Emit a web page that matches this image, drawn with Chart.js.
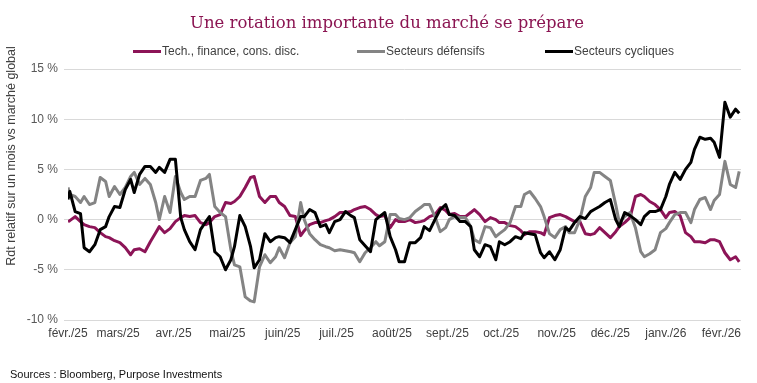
<!DOCTYPE html>
<html><head><meta charset="utf-8">
<script src="https://cdn.jsdelivr.net/npm/chart.js@4.4.1/dist/chart.umd.min.js"></script>
<style>html,body{margin:0;padding:0;background:#fff;}</style>
</head><body>
<canvas id="c" width="757" height="383"></canvas>
<script>
// Day offsets from 1 Feb 2025
const jours = [0,1,4,7,9,12,15,18,21,23,26,29,32,35,37,40,43,46,49,51,54,57,
60,63,65,68,71,74,77,79,82,85,88,91,93,96,99,102,104,107,110,113,116,118,121,
124,127,130,132,135,138,141,144,146,149,152,155,158,160,163,166,169,172,174,177,180,183,185,
188,191,194,197,199,202,205,208,211,213,216,219,222,225,227,230,233,236,239,241,244,247,250,
253,255,258,261,264,266,269,272,275,278,280,283,286,289,292,294,297,300,303,306,308,311,314,
317,320,322,325,328,331,334,336,339,342,345,348,350,353,356,359,361,364,367,370,373,375];

const moisDebut = [0,28,59,89,120,150,181,212,242,273,303,334,365];
const moisLabels = ['févr./25','mars/25','avr./25','mai/25','juin/25','juil./25','août/25','sept./25','oct./25','nov./25','déc./25','janv./26','févr./26'];
const yTicks = [-10,-5,0,5,10,15];

const tech = [-0.2,
-0.1,0.3,-0.2,-0.5,-0.7,-0.8,-1.3,-1.7,-1.8,-2.1,-2.3,-2.8,-3.5,-3.0,-2.9,-3.2,-2.2,-1.3,-0.7,-1.3,-0.9,
-0.2,0.2,0.4,0.3,0.4,-0.3,-0.5,-0.3,0.3,0.5,1.7,1.6,1.8,2.3,3.2,4.2,4.3,2.3,1.7,2.3,2.3,1.7,1.3,
0.4,0.3,-1.6,-1.1,-0.5,-0.3,-0.3,-0.1,0.0,0.3,0.7,0.7,0.8,1.0,1.2,1.3,1.0,0.5,0.3,0.4,-0.8,0.0,-0.2,
-0.2,0.0,-0.3,-0.2,-0.1,0.3,0.5,1.2,0.9,0.5,0.6,0.3,0.3,0.7,1.0,0.5,-0.2,0.2,0.0,-0.3,-0.3,-0.6,-0.7,
-1.1,-1.5,-1.2,-1.2,-1.3,-1.5,0.2,0.4,0.5,0.3,0.1,-0.2,-0.2,-1.4,-1.5,-1.4,-0.8,-1.3,-1.8,-1.2,-0.7,-0.3,0.2,
2.3,2.5,2.3,1.8,1.5,1.0,0.2,0.7,0.8,0.4,-1.3,-1.7,-2.2,-2.2,-2.3,-2.0,-2.0,-2.2,-3.3,-4.0,-3.7,-4.2];

const defensifs = [3.2,
2.5,2.3,1.7,2.3,1.5,1.7,4.2,3.8,2.3,3.3,2.5,3.2,4.3,4.7,3.5,4.1,3.5,1.7,0.0,2.3,0.7,
4.3,2.7,2.0,2.3,2.3,3.9,4.1,4.5,1.3,0.7,0.3,-3.0,-4.5,-4.7,-7.7,-8.1,-8.2,-4.7,-3.5,-4.3,-3.7,-2.8,-3.8,
-2.3,-1.7,1.7,0.0,-1.4,-2.0,-2.5,-2.7,-2.8,-3.1,-3.0,-3.1,-3.2,-3.3,-4.2,-3.3,-2.8,-2.2,-2.6,-2.2,0.5,0.5,0.1,
0.0,0.2,0.8,1.2,1.5,1.5,0.3,-1.2,-0.8,0.0,0.3,0.2,0.2,-0.7,-2.0,-2.3,-0.7,-0.8,-1.7,-1.4,-1.0,-0.3,1.3,
1.3,2.5,2.8,2.1,1.3,0.3,-1.4,-1.8,-1.0,-0.7,-1.3,-1.3,0.0,2.3,3.2,4.7,4.7,4.3,3.9,1.5,-0.3,0.3,0.7,
-0.8,-3.2,-3.7,-3.4,-3.0,-1.3,-0.9,-0.3,0.5,0.7,0.7,-0.3,1.0,2.0,2.2,1.0,1.9,2.5,5.8,3.5,3.2,4.8];

const cycliques = [2.0,
2.8,0.8,0.6,-2.8,-3.2,-2.5,-1.0,-0.7,0.3,1.3,1.2,3.0,4.0,2.7,4.5,5.3,5.3,4.7,5.2,4.7,6.0,
6.0,0.2,-1.0,-2.2,-3.0,-1.0,-0.2,0.3,-3.2,-3.7,-5.0,-4.0,-2.7,0.4,-0.7,-2.7,-4.8,-4.0,-1.4,-2.2,-1.8,-1.7,-1.8,
-2.3,-1.0,0.3,0.3,1.0,0.7,-0.7,-0.5,-1.3,-0.2,0.0,0.8,0.4,0.2,-2.0,-2.6,-3.2,0.0,0.3,0.7,-1.7,-3.0,-4.2,
-4.2,-2.3,-2.3,-1.8,-0.7,-1.1,0.0,1.0,1.5,0.5,0.4,-0.2,-0.2,-0.7,-3.0,-3.7,-2.5,-2.7,-4.0,-2.2,-2.5,-2.2,-1.7,
-1.9,-1.3,-1.4,-1.5,-3.3,-3.8,-3.2,-4.0,-3.0,-0.8,-1.1,-0.3,0.3,0.1,0.8,1.0,1.3,1.7,2.0,0.0,-0.7,0.7,0.4,
0.0,-0.5,0.3,0.8,0.8,1.0,2.3,3.5,4.7,4.0,5.0,5.7,7.0,8.2,8.0,8.1,7.7,6.2,11.7,10.2,11.0,10.6];

const seriesNoms = ['Tech., finance, cons. disc.','Secteurs défensifs','Secteurs cycliques'];
const seriesCouleurs = ['#8C1457','#848484','#000000'];
const titre = 'Une rotation importante du marché se prépare';
const titreAxeY = 'Rdt relatif sur un mois vs marché global';
const sourceTxt = 'Sources : Bloomberg, Purpose Investments';

const toPts = arr => jours.map((j, i) => ({x: j, y: arr[i]}));

const textPlugin = {
  id: 'textes',
  afterDraw(chart) {
    const ctx = chart.ctx;
    ctx.save();
    // Title
    ctx.fillStyle = '#8B1552';
    ctx.font = '16.5px "DejaVu Serif"';
    ctx.textAlign = 'center';
    ctx.textBaseline = 'alphabetic';
    ctx.fillText(titre, 387, 27.5);
    // Legend
    const legX = [133, 357, 545];
    ctx.font = '12px "Liberation Sans"';
    ctx.textAlign = 'left';
    ctx.textBaseline = 'middle';
    seriesNoms.forEach((n, i) => {
      ctx.strokeStyle = seriesCouleurs[i];
      ctx.lineWidth = 3;
      ctx.beginPath();
      ctx.moveTo(legX[i], 51.5);
      ctx.lineTo(legX[i] + 28, 51.5);
      ctx.stroke();
      ctx.fillStyle = '#404040';
      ctx.fillText(n, legX[i] + 29, 51.5);
    });
    // Y axis title
    ctx.save();
    ctx.translate(12, 156);
    ctx.rotate(-Math.PI / 2);
    ctx.textAlign = 'center';
    ctx.textBaseline = 'middle';
    ctx.fillStyle = '#404040';
    ctx.font = '12.5px "Liberation Sans"';
    ctx.fillText(titreAxeY, 0, 0);
    ctx.restore();
    // Source
    ctx.fillStyle = '#111111';
    ctx.font = '11px "Liberation Sans"';
    ctx.textAlign = 'left';
    ctx.textBaseline = 'middle';
    ctx.fillText(sourceTxt, 10, 375);
    ctx.restore();
  }
};

new Chart(document.getElementById('c'), {
  type: 'line',
  data: {
    datasets: [
      {label: seriesNoms[0], data: toPts(tech), borderColor: seriesCouleurs[0], backgroundColor: seriesCouleurs[0], order: 3},
      {label: seriesNoms[1], data: toPts(defensifs), borderColor: seriesCouleurs[1], backgroundColor: seriesCouleurs[1], order: 2},
      {label: seriesNoms[2], data: toPts(cycliques), borderColor: seriesCouleurs[2], backgroundColor: seriesCouleurs[2], order: 1}
    ]
  },
  options: {
    responsive: false,
    animation: false,
    devicePixelRatio: 1,
    layout: {padding: {top: 69, right: 16, bottom: 0, left: 0}},
    plugins: {legend: {display: false}, title: {display: false}, tooltip: {enabled: false}},
    elements: {
      point: {radius: 0, hoverRadius: 0},
      line: {tension: 0, borderWidth: 3, borderJoinStyle: 'round', fill: false}
    },
    scales: {
      x: {
        type: 'linear', min: 0, max: 376,
        grid: {display: false, drawTicks: false},
        border: {display: false},
        afterBuildTicks: s => { s.ticks = moisDebut.map(v => ({value: v})); },
        ticks: {
          autoSkip: false, maxRotation: 0, minRotation: 0, padding: 6,
          color: '#404040', font: {family: 'Liberation Sans', size: 12},
          callback: (v, i) => moisLabels[i]
        },
        afterFit: s => { s.height = 63; }
      },
      y: {
        min: -10, max: 15,
        afterBuildTicks: s => { s.ticks = yTicks.map(v => ({value: v})); },
        grid: {color: '#d9d9d9', lineWidth: 1, drawTicks: true, tickLength: 4},
        border: {display: false},
        ticks: {
          padding: 6, color: '#595959', font: {family: 'Liberation Sans', size: 12},
          callback: v => v + ' %'
        },
        afterFit: s => { s.width = 68; }
      }
    }
  },
  plugins: [textPlugin]
});
</script>
</body></html>
